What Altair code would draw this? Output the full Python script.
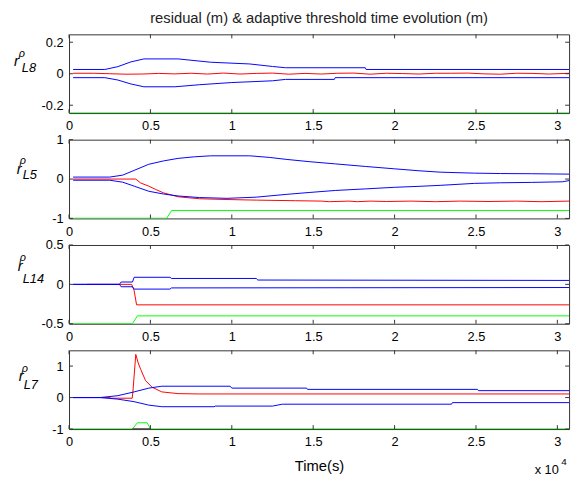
import altair as alt
import pandas as pd

FONT = "Liberation Sans"
BOX = "#333333"
T_END = 30720
x_ticks = [0, 5000, 10000, 15000, 20000, 25000, 30000]
TITLE = "residual (m) & adaptive threshold time evolution (m)"

# ---------------- panel 1 : r_L8 ----------------
l8_up_t = [250, 2200, 3000, 3800, 4600, 6700, 8700, 11100, 12500, 13300, 18200, 18250, T_END]
l8_up_v = [0.027, 0.027, 0.045, 0.075, 0.094, 0.094, 0.073, 0.062, 0.046, 0.038, 0.038, 0.027, 0.027]
l8_lo_t = [250, 2200, 3000, 3800, 4600, 6500, 8000, 10000, 12500, 13300, 16300, 16350, T_END]
l8_lo_v = [-0.025, -0.025, -0.04, -0.065, -0.083, -0.083, -0.07, -0.056, -0.045, -0.036, -0.036, -0.025, -0.025]
l8_res_t = [250, 1500, 2500, 3500, 4500, 5500, 6500, 7500, 8500, 9500, 10500, 11500, 12500, 13500,
            14500, 15500, 16500, 17500, 18500, 19500, 20500, 21500, 22500, 23500, 24500, 25500,
            26500, 27500, 28500, 29500, T_END]
l8_res_v = [0.003, 0.003, 0.0, -0.003, -0.002, 0.002, -0.001, 0.003, -0.002, 0.004, -0.002, 0.002,
            0.004, -0.003, 0.002, -0.002, 0.003, 0.004, -0.003, 0.003, 0.001, -0.002, 0.003, 0.003,
            0.004, -0.001, -0.003, 0.003, 0.002, -0.002, 0.003]
l8_fd_t = [0, T_END]
l8_fd_v = [-0.249, -0.249]

# ---------------- panel 2 : r_L5 ----------------
l5_up_t = [250, 2500, 3300, 4000, 4900, 5800, 6700, 7700, 8700, 11100, 12300, 13340, 14800, 16360,
           18200, 19980, 21500, 22800, 24900, 26500, 28400, T_END]
l5_up_v = [0.05, 0.05, 0.1, 0.22, 0.375, 0.46, 0.525, 0.565, 0.59, 0.59, 0.55, 0.5, 0.44, 0.385,
           0.32, 0.26, 0.21, 0.175, 0.15, 0.14, 0.135, 0.125]
l5_lo_t = [250, 2500, 3300, 4000, 4900, 5800, 6700, 8000, 9700, 11500, 13340, 14800, 16360, 18200,
           19980, 21500, 22800, 24900, 26500, 28400, 30300, T_END]
l5_lo_v = [-0.03, -0.03, -0.08, -0.18, -0.31, -0.38, -0.43, -0.47, -0.49, -0.46, -0.39, -0.34,
           -0.29, -0.25, -0.21, -0.185, -0.16, -0.11, -0.095, -0.085, -0.07, -0.04]
l5_res_t = [250, 4100, 4400, 4900, 5300, 5800, 6700, 8000, 9700, 11500, 13900, 15500, 16000, 17200,
            17700, 18500, 19500, 21000, 22500, 24000, 25800, 27500, 29000, T_END]
l5_res_v = [0.0, 0.0, -0.1, -0.18, -0.26, -0.35, -0.45, -0.5, -0.52, -0.535, -0.55, -0.56, -0.575,
            -0.56, -0.575, -0.56, -0.57, -0.56, -0.575, -0.56, -0.57, -0.56, -0.575, -0.56]
l5_fd_t = [0, 6000, 6300, T_END]
l5_fd_v = [-0.996, -0.996, -0.8, -0.8]

# ---------------- panel 3 : r_L14 ----------------
l14_up_t = [250, 3100, 3200, 3900, 4000, 6200, 6300, 11500, 11600, T_END]
l14_up_v = [0, 0, 0.03, 0.03, 0.09, 0.09, 0.075, 0.075, 0.055, 0.05]
l14_lo_t = [250, 3100, 3200, 3900, 4000, 6200, 6300, T_END]
l14_lo_v = [0, 0, -0.03, -0.03, -0.06, -0.06, -0.045, -0.04]
l14_res_t = [1100, 3850, 4000, 4150, T_END]
l14_res_v = [0, 0, -0.08, -0.26, -0.26]
l14_fd_t = [0, 3900, 4200, T_END]
l14_fd_v = [-0.498, -0.498, -0.4, -0.4]

# ---------------- panel 4 : r_L7 ----------------
l7_up_t = [250, 1900, 3000, 4000, 4900, 5700, 9900, 10000, 14600, 14650, 25100, 25150, T_END]
l7_up_v = [0, 0, 0.06, 0.18, 0.3, 0.36, 0.36, 0.3, 0.3, 0.26, 0.26, 0.22, 0.22]
l7_lo_t = [250, 1900, 3000, 4000, 4900, 5700, 8900, 9000, 12500, 13100, 23500, 23550, T_END]
l7_lo_v = [0, 0, -0.05, -0.13, -0.24, -0.29, -0.29, -0.27, -0.27, -0.21, -0.21, -0.16, -0.16]
l7_res_t = [250, 2500, 2600, 3880, 3920, 4100, 4250, 4400, 4700, 5100, 5700, 6700, 8000, T_END]
l7_res_v = [0, 0, -0.02, -0.02, 0.15, 1.37, 1.1, 0.9, 0.54, 0.33, 0.18, 0.125, 0.115, 0.115]
l7_fd_t = [0, 3900, 4200, 4800, 5000, T_END]
l7_fd_v = [-0.995, -0.995, -0.8, -0.8, -0.995, -0.995]
l7_bk_t = [3900, 5000]
l7_bk_v = [-0.995, -0.995]

W, H = 508, 80


def df(ts, vs, name):
    return pd.DataFrame({"t": ts, "v": vs, "s": name})


def text_layer(txt, x, y, size, italic=False, align="left", color="#000"):
    kw = dict(font=FONT, fontSize=size, align=align, baseline="alphabetic", color=color)
    if italic:
        kw["fontStyle"] = "italic"
    return alt.Chart(pd.DataFrame({"s": [txt]})).mark_text(**kw).encode(
        text="s:N", x=alt.value(x), y=alt.value(y))


def panel(up, lo, res, fd, ydom, yticks, sub, lab, title=None, xtitle=None, black=None):
    xs = alt.Scale(domain=[0, T_END], nice=False, zero=False)
    ys = alt.Scale(domain=ydom, nice=False, zero=False)
    xaxis = alt.Axis(values=x_ticks, labelExpr="'' + datum.value / 10000", ticks=False,
                     domain=False, grid=False, labelFont=FONT, labelFontSize=13,
                     labelColor="#000", labelPadding=7, labelFlush=False, labelOverlap=False,
                     title=xtitle, titleFont=FONT, titleFontSize=15, titleFontWeight="normal",
                     titleColor="#000", titlePadding=10)
    yaxis = alt.Axis(values=yticks, labelExpr="'' + datum.value", ticks=False, domain=False,
                     grid=False, labelFont=FONT, labelFontSize=13, labelColor="#000",
                     labelPadding=6, labelFlush=False, labelOverlap=False, title=None)

    def X(f):
        return alt.X(f + ":Q", scale=xs, axis=xaxis)

    def Y(f):
        return alt.Y(f + ":Q", scale=ys, axis=yaxis)

    def line(d, color):
        return alt.Chart(d).mark_line(color=color, strokeWidth=1, clip=True).encode(
            x=X("t"), y=Y("v"), detail="s:N")

    layers = [line(df(*fd, "fd"), "#00ff00")]
    if black is not None:
        layers.append(line(df(*black, "bk"), "#000000"))
    layers.append(line(df(*res, "res"), "#ff0000"))
    layers.append(line(pd.concat([df(*up, "up"), df(*lo, "lo")]), "#0000ff"))

    xt = pd.DataFrame({"xt": x_ticks})
    yt = pd.DataFrame({"yt": yticks})
    for y0, y1 in [(H, H - 4), (0, 4)]:
        layers.append(alt.Chart(xt).mark_rule(color=BOX, strokeWidth=1).encode(
            x=X("xt"), y=alt.value(y0), y2=alt.value(y1)))
    for x0, x1 in [(0, 4), (W, W - 4)]:
        layers.append(alt.Chart(yt).mark_rule(color=BOX, strokeWidth=1).encode(
            y=Y("yt"), x=alt.value(x0), x2=alt.value(x1)))

    # y label  r^rho_sub
    (rx, ry), (px, py), (sx, sy) = lab
    layers.append(text_layer("r", rx, ry, 15, italic=True))
    layers.append(text_layer("ρ", px, py, 11, italic=True))
    layers.append(text_layer(sub, sx, sy, 13, italic=True))

    if title is not None:
        layers.append(text_layer(title, W / 2, -12, 15, align="center", color="#222222"))

    if xtitle is not None:
        layers.append(text_layer("x 10", 473, 126, 13))
        layers.append(text_layer("4", 500, 117, 10))

    return alt.layer(*layers).properties(width=W, height=H)


p1 = panel((l8_up_t, l8_up_v), (l8_lo_t, l8_lo_v), (l8_res_t, l8_res_v), (l8_fd_t, l8_fd_v),
           [-0.25, 0.25], [-0.2, 0, 0.2], "L8", ((-56, 32), (-51, 23), (-48, 38)), title=TITLE)
p2 = panel((l5_up_t, l5_up_v), (l5_lo_t, l5_lo_v), (l5_res_t, l5_res_v), (l5_fd_t, l5_fd_v),
           [-1, 1], [-1, 0, 1], "L5", ((-53, 35), (-50, 25), (-47, 40)))
p3 = panel((l14_up_t, l14_up_v), (l14_lo_t, l14_lo_v), (l14_res_t, l14_res_v), (l14_fd_t, l14_fd_v),
           [-0.5, 0.5], [-0.5, 0, 0.5], "L14", ((-52, 26), (-50, 16), (-47, 39)))
p4 = panel((l7_up_t, l7_up_v), (l7_lo_t, l7_lo_v), (l7_res_t, l7_res_v), (l7_fd_t, l7_fd_v),
           [-1, 1.5], [-1, 0, 1], "L7", ((-51, 31), (-48, 22), (-46, 39)),
           xtitle="Time(s)", black=(l7_bk_t, l7_bk_v))

chart = alt.vconcat(p1, p2, p3, p4, spacing=27, bounds="flush").properties(
    padding={"left": 5, "top": -2, "right": 4, "bottom": 0}
).configure_view(stroke=BOX, strokeWidth=1)

chart.save("out.html", embed_options={"renderer": "svg", "actions": False})
